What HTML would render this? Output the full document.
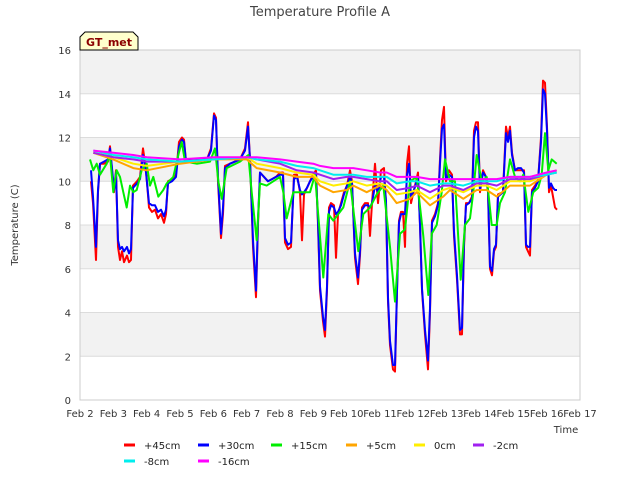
<!DOCTYPE html>
<html><head><meta charset="utf-8"><style>
body{margin:0;background:#fff;font-family:"Liberation Sans","DejaVu Sans",sans-serif;}
svg text{font-family:"DejaVu Sans","Liberation Sans",sans-serif;}
</style></head><body>
<svg id="chart" width="640" height="480" viewBox="0 0 640 480" xmlns="http://www.w3.org/2000/svg">
<rect width="640" height="480" fill="#fff"/>
<text x="320" y="16" text-anchor="middle" font-size="13" fill="#444">Temperature Profile A</text>
<g id="bands"></g>
<g id="grid"></g>
<rect x="80" y="50" width="500" height="350" fill="none" stroke="#ccc"/>
<g id="series"></g>
<g id="yticks"></g>
<g id="xticks"></g>
<text transform="translate(18,225) rotate(-90)" text-anchor="middle" font-size="10" fill="#333">Temperature (C)</text>
<text x="566" y="433" text-anchor="middle" font-size="10" fill="#333">Time</text>
<g>
<path d="M80,50 L80,37 L85,32 L133,32 L138,37 L138,50 Z" fill="#ffffcc" stroke="#000"/>
<text x="109" y="46" text-anchor="middle" font-size="11" font-weight="bold" fill="#8b0000">GT_met</text>
</g>
<g id="legend"></g>
</svg>
<script>
const yTicks=[0,2,4,6,8,10,12,14,16];
const xTickLabels=["Feb 2","Feb 3","Feb 4","Feb 5","Feb 6","Feb 7","Feb 8","Feb 9","Feb 10","Feb 11","Feb 12","Feb 13","Feb 14","Feb 15","Feb 16","Feb 17"];
const seriesNames=["+45cm","+30cm","+15cm","+5cm","0cm","-2cm","-8cm","-16cm"];
const seriesColors=["#ff0000","#0000ff","#00ee00","#ffa500","#ffee00","#a020f0","#00eeee","#ff00ff"];
const tA=[2.33,2.39,2.48,2.54,2.6,2.72,2.84,2.9,2.96,3.02,3.08,3.14,3.2,3.26,3.32,3.41,3.47,3.53,3.59,3.71,3.8,3.89,3.98,4.07,4.16,4.25,4.34,4.43,4.52,4.58,4.64,4.76,4.88,4.97,5.06,5.12,5.18,5.3,5.6,5.81,5.93,6.02,6.08,6.14,6.23,6.29,6.35,6.5,6.8,6.95,7.04,7.1,7.19,7.28,7.34,7.4,7.52,7.64,7.76,7.88,8.0,8.09,8.15,8.24,8.33,8.42,8.51,8.6,8.66,8.72,8.81,8.9,8.99,9.08,9.14,9.2,9.29,9.35,9.41,9.47,9.53,9.62,9.68,9.74,9.83,9.92,10.01,10.1,10.16,10.25,10.34,10.4,10.46,10.55,10.64,10.7,10.76,10.85,10.94,11.03,11.12,11.18,11.24,11.3,11.39,11.45,11.51,11.57,11.63,11.69,11.75,11.81,11.87,11.93,12.02,12.08,12.14,12.2,12.26,12.35,12.44,12.5,12.56,12.65,12.74,12.8,12.86,12.92,12.98,13.07,13.16,13.22,13.31,13.4,13.46,13.52,13.58,13.67,13.76,13.82,13.88,13.94,14.0,14.09,14.18,14.24,14.3,14.36,14.42,14.48,14.54,14.69,14.78,14.84,14.9,14.96,15.05,15.14,15.23,15.32,15.38,15.44,15.5,15.56,15.65,15.74,15.83,15.89,15.95,16.01,16.07,16.13,16.19,16.25,16.31];
const v45=[10.0,9.0,6.4,9.5,10.8,10.8,10.9,11.6,10.5,9.5,10.5,7.0,6.4,6.8,6.3,6.6,6.3,6.4,9.8,10.0,10.2,11.5,10.5,8.8,8.6,8.7,8.3,8.5,8.1,8.5,10.0,10.1,10.3,11.8,12.0,11.9,10.9,11.0,11.0,11.0,11.5,13.1,12.9,10.0,7.4,8.5,10.7,10.8,11.0,11.5,12.7,11.0,7.0,4.7,8.0,10.4,10.2,10.0,10.1,10.2,10.4,10.4,7.2,6.9,7.0,10.3,10.3,9.5,7.3,9.4,9.7,10.0,10.3,10.5,8.0,5.0,3.6,2.9,5.0,8.8,9.0,8.9,6.5,8.5,9.0,9.5,9.8,10.5,10.0,6.5,5.3,6.6,8.8,9.0,9.0,7.5,9.0,10.8,9.0,10.5,10.6,9.0,4.5,2.5,1.4,1.3,5.0,8.2,8.6,8.6,7.0,10.8,11.6,9.0,9.6,10.0,10.4,8.0,5.0,3.0,1.4,4.0,8.2,8.5,9.0,11.0,12.8,13.4,10.0,10.5,10.3,7.5,5.5,3.0,3.0,7.0,9.0,9.0,9.3,12.3,12.7,12.7,9.5,10.5,10.2,9.5,6.0,5.7,6.8,7.0,9.4,9.5,12.5,12.0,12.5,11.3,10.5,10.5,10.5,10.5,7.0,6.8,6.6,9.6,9.8,10.0,12.0,14.6,14.5,12.5,9.5,9.8,9.3,8.8,8.7];
const v30=[10.5,9.3,7.0,9.6,10.8,10.9,11.0,11.5,10.6,9.6,10.4,7.3,6.9,7.0,6.8,7.0,6.7,6.9,9.7,9.9,10.1,11.2,10.4,9.0,8.9,8.9,8.6,8.7,8.4,8.7,9.9,10.0,10.2,11.6,11.9,11.8,10.9,11.0,11.0,11.0,11.4,13.0,12.8,10.2,7.6,8.8,10.6,10.8,11.0,11.4,12.5,11.0,7.3,5.0,8.2,10.4,10.2,10.0,10.1,10.2,10.3,10.3,7.4,7.1,7.2,10.1,10.2,9.6,9.4,9.5,9.7,10.0,10.2,10.3,8.2,5.2,3.8,3.2,5.2,8.6,8.9,8.8,8.5,8.6,8.9,9.4,9.8,10.2,9.9,6.7,5.6,6.8,8.7,8.9,8.9,8.8,9.0,9.8,9.5,10.2,10.2,9.1,4.7,2.7,1.6,1.6,5.0,8.1,8.5,8.5,8.5,10.3,10.8,9.3,9.6,9.9,10.2,8.0,5.1,3.2,1.8,4.2,8.1,8.4,8.9,10.8,12.4,12.6,10.1,10.3,10.2,7.7,5.7,3.2,3.3,7.2,8.9,9.0,9.2,12.0,12.5,12.3,9.6,10.4,10.2,9.6,6.1,5.9,6.9,7.1,9.3,9.5,12.2,11.8,12.3,11.2,10.5,10.6,10.6,10.4,7.1,7.0,7.0,9.5,9.7,10.0,11.8,14.2,14.0,12.3,9.7,9.9,9.7,9.6,9.6];
const tB=[2.3,2.4,2.5,2.6,2.8,2.9,3.0,3.1,3.2,3.3,3.4,3.5,3.6,3.7,3.85,4.0,4.1,4.2,4.35,4.5,4.6,4.8,4.95,5.05,5.15,5.5,5.9,6.05,6.15,6.25,6.4,6.8,7.05,7.15,7.3,7.4,7.6,8.0,8.1,8.2,8.4,8.9,9.05,9.3,9.45,9.6,9.9,10.1,10.35,10.5,10.7,10.9,11.1,11.3,11.45,11.6,11.75,11.9,12.1,12.3,12.45,12.55,12.7,12.85,12.95,13.1,13.25,13.42,13.55,13.7,13.8,13.9,14.05,14.2,14.35,14.5,14.6,14.75,14.9,15.05,15.2,15.3,15.45,15.6,15.75,15.85,15.95,16.05,16.15,16.3];
const v15=[11.0,10.5,10.8,10.3,10.8,11.2,9.5,10.5,10.2,9.5,8.8,9.8,9.5,9.6,10.5,10.8,9.8,10.2,9.3,9.6,9.9,10.2,11.2,11.8,10.9,10.8,10.9,11.5,10.0,9.2,10.6,10.9,11.2,9.5,7.3,9.9,9.8,10.2,9.5,8.3,9.5,9.5,10.3,5.6,8.5,8.2,8.8,10.0,6.8,8.5,8.8,9.4,9.8,7.0,4.5,7.6,7.8,10.0,10.2,7.5,4.8,7.6,8.0,9.5,11.0,10.0,10.0,5.5,8.0,8.3,9.5,11.2,10.0,10.2,8.0,8.0,9.0,9.5,11.0,10.2,10.0,10.3,8.6,9.5,9.7,10.3,12.2,10.5,11.0,10.8];
const tC=[2.4,3.0,3.6,4.0,5.0,6.0,7.0,7.3,8.0,8.5,9.0,9.2,9.6,10.0,10.2,10.6,11.0,11.2,11.5,11.9,12.1,12.5,12.9,13.1,13.5,13.9,14.2,14.5,14.9,15.5,16.0,16.3];
const v5=[11.3,11.0,10.6,10.5,10.8,11.0,11.0,10.6,10.4,10.2,10.2,9.8,9.5,9.6,9.8,9.5,9.8,9.6,9.0,9.2,9.5,8.9,9.3,9.6,9.2,9.6,9.6,9.3,9.8,9.8,10.3,10.5];
const v0=[11.3,11.1,10.8,10.7,10.9,11.0,11.1,10.8,10.6,10.4,10.3,10.0,9.8,9.9,10.0,9.8,9.9,9.8,9.4,9.5,9.6,9.2,9.6,9.7,9.5,9.8,9.8,9.6,10.0,10.0,10.3,10.5];
const vm2=[11.3,11.1,11.0,10.9,10.9,11.0,11.1,11.0,10.8,10.5,10.4,10.3,10.1,10.2,10.2,10.1,10.0,10.0,9.6,9.7,9.8,9.5,9.8,9.8,9.6,9.9,9.9,9.8,10.1,10.1,10.3,10.4];
const vm8=[11.4,11.2,11.1,11.0,10.9,11.0,11.1,11.0,10.9,10.7,10.6,10.5,10.3,10.3,10.3,10.2,10.2,10.2,9.9,10.0,10.0,9.8,9.9,9.9,9.8,10.0,10.0,10.0,10.2,10.2,10.3,10.4];
const vm16=[11.4,11.3,11.2,11.1,11.0,11.1,11.1,11.1,11.0,10.9,10.8,10.7,10.6,10.6,10.6,10.5,10.4,10.4,10.2,10.2,10.2,10.1,10.1,10.1,10.1,10.1,10.1,10.1,10.2,10.2,10.4,10.5];
const seriesTimes=[tA,tA,tB,tC,tC,tC,tC,tC];
const seriesValues=[v45,v30,v15,v5,v0,vm2,vm8,vm16];

const NS="http://www.w3.org/2000/svg";
const X0=80,X1=580,Y0=400,Y1=50;
function xs(d){return X0+(d-2)/15*(X1-X0);}
function ys(v){return Y0-v/16*(Y0-Y1);}
function mk(tag,attrs,parent){const e=document.createElementNS(NS,tag);for(const k in attrs)e.setAttribute(k,attrs[k]);parent.appendChild(e);return e;}
const bands=document.getElementById('bands'),grid=document.getElementById('grid');
for(let i=0;i<yTicks.length-1;i++){
  if(i%2===1){const r=mk('rect',{x:X0,y:ys(yTicks[i+1]),width:X1-X0,height:ys(yTicks[i])-ys(yTicks[i+1]),fill:'#f2f2f2'},bands);
  
  }
}
const yt=document.getElementById('yticks');
yTicks.forEach(v=>{
  const l=mk('line',{x1:X0,x2:X1,y1:ys(v),y2:ys(v),stroke:'#dcdcdc'},grid);
  
  
  const t=mk('text',{x:71,y:ys(v)+4,'text-anchor':'end','font-size':'10',fill:'#333'},yt);
  t.textContent=v;
  
  
});
const xt=document.getElementById('xticks');
xTickLabels.forEach((s,i)=>{
  const t=mk('text',{x:xs(2+i),y:417,'text-anchor':'middle','font-size':'10',fill:'#333'},xt);
  t.textContent=s;
  
  
});
const sg=document.getElementById('series');
for(let s=0;s<seriesNames.length;s++){
  const T=seriesTimes[s],V=seriesValues[s];
  let d='';for(let i=0;i<T.length;i++)d+=(i?'L':'M')+xs(T[i]).toFixed(1)+','+ys(V[i]).toFixed(1);
  const p=mk('path',{d:d,fill:'none',stroke:seriesColors[s],'stroke-width':'2','stroke-linejoin':'round'},sg);
  
  
}
const lg=document.getElementById('legend');
const lx=[124,198,271,346,414,473,124,198],ly=[445,445,445,445,445,445,461,461];
seriesNames.forEach((n,i)=>{
  const g=mk('g',{},lg);
  
  
  mk('line',{x1:lx[i],x2:lx[i]+11,y1:ly[i],y2:ly[i],stroke:seriesColors[i],'stroke-width':'3'},g);
  const t=mk('text',{x:lx[i]+20,y:ly[i]+4,'font-size':'10',fill:'#222'},g);t.textContent=n;
});
</script>
</body></html>
